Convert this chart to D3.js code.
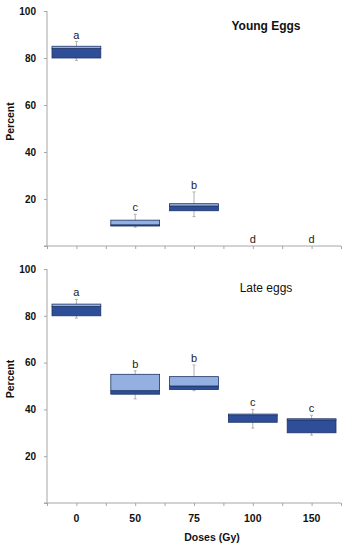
<!DOCTYPE html>
<html lang="en">
<head>
    <meta charset="utf-8">
    <title>Egg hatch by dose</title>
    <script type="text/javascript" src="https://cdn.jsdelivr.net/npm/d3@7/dist/d3.min.js"></script>
    <style>
        body { margin: 0; background: #fff; }
        svg { display: block; font-family: "Liberation Sans", Arial, sans-serif; }
        .axis path, .axis line { stroke: #a6a6a6; }
        .axis text { font-weight: bold; font-size: 10px; fill: #111; }
    </style>
</head>
<body>
    <svg width="350" height="550"></svg>

    <script type="text/javascript">
        // doses on the x axis
        var doses = ["0", "50", "75", "100", "150"];
        var yTicks = [0, 20, 40, 60, 80, 100];

        // box stats: [min, q1, median, q3, max]
        var youngStats = [
            [79, 80, 84, 85, 87],
            [8, 8.5, 9, 11, 13.5],
            [12.5, 15, 17, 18, 23],
            [0, 0, 0, 0, 0],
            [0, 0, 0, 0, 0]
        ];
        var youngLetters = ["a", "c", "b", "d", "d"];

        var lateStats = [
            [79, 80, 84, 85, 87],
            [44.5, 46.5, 48, 55, 56.5],
            [48, 48.5, 50, 54, 59],
            [32, 34.5, 37.5, 38, 40],
            [29, 30, 35.5, 36, 37.5]
        ];
        var lateLetters = ["a", "b", "b", "c", "c"];

        var darkBlue = "#2e4f98";
        var lightBlue = "#93b0e0";
        var edge = "#1d3366";

        var svg = d3.select("svg");
        var x = d3.scaleBand().domain(doses).range([47, 341]).padding(0);
        var bw = x.bandwidth();
        var boxW = bw * 0.83;
        // half-band positions for the x ticks
        var xt = d3.scaleLinear().domain([0, doses.length]).range([47, 341]);

        function drawPanel(stats, letters, title, titleBold, top, bottom, showLabels) {
            var y = d3.scaleLinear().domain([0, 100]).range([bottom, top]);
            var g = svg.append("g");

            g.append("g")
                .attr("class", "axis")
                .attr("transform", "translate(47,0)")
                .call(d3.axisLeft(y).tickValues(yTicks).tickSize(3).tickPadding(8)
                    .tickFormat(function (d) { return d === 0 ? "" : d; }))
                .call(function (a) { a.select(".domain").attr("d", "M0," + y(100) + "V" + y(0)); });

            g.append("g")
                .attr("class", "axis")
                .attr("transform", "translate(0," + bottom + ")")
                .call(d3.axisBottom(xt).tickValues(d3.range(0, doses.length + 0.01, 0.5))
                    .tickSize(3).tickFormat(""))
                .call(function (a) { a.select(".domain").attr("d", "M44,0H341"); });

            g.append("text")
                .attr("transform", "translate(14," + ((top + bottom) / 2 - 7) + ") rotate(-90)")
                .attr("text-anchor", "middle")
                .attr("font-weight", "bold")
                .attr("font-size", "10.5px")
                .attr("fill", "#111")
                .text("Percent");

            g.append("text")
                .attr("x", 266)
                .attr("y", top + (titleBold ? 19 : 23))
                .attr("text-anchor", "middle")
                .attr("font-weight", titleBold ? "bold" : "normal")
                .attr("font-size", "12px")
                .attr("fill", "#111")
                .text(title);

            var box = g.selectAll("g.box")
                .data(stats)
                .enter()
                .append("g")
                .attr("class", "box")
                .attr("transform", function (d, i) { return "translate(" + (x(doses[i]) + bw / 2) + ",0)"; });

            // whiskers
            box.filter(function (d) { return d[4] > d[0]; })
                .append("line")
                .attr("y1", function (d) { return y(d[0]); })
                .attr("y2", function (d) { return y(d[4]); })
                .attr("stroke", "#b0b0b0")
                .attr("stroke-width", 1);
            [0, 4].forEach(function (k) {
                box.filter(function (d) { return d[4] > d[0]; })
                    .append("line")
                    .attr("x1", -1.5).attr("x2", 1.5)
                    .attr("y1", function (d) { return y(d[k]); })
                    .attr("y2", function (d) { return y(d[k]); })
                    .attr("stroke", "#b0b0b0");
            });

            // lower part q1 to median
            box.filter(function (d) { return d[2] > d[1]; })
                .append("rect")
                .attr("x", -boxW / 2)
                .attr("width", boxW)
                .attr("y", function (d) { return y(d[2]); })
                .attr("height", function (d) { return y(d[1]) - y(d[2]); })
                .attr("fill", darkBlue)
                .attr("stroke", edge)
                .attr("stroke-width", 0.8);

            // upper part median to q3
            box.filter(function (d) { return d[3] > d[2]; })
                .append("rect")
                .attr("x", -boxW / 2)
                .attr("width", boxW)
                .attr("y", function (d) { return y(d[3]); })
                .attr("height", function (d) { return y(d[2]) - y(d[3]); })
                .attr("fill", lightBlue)
                .attr("stroke", edge)
                .attr("stroke-width", 0.8);

            box.append("text")
                .attr("y", function (d) { return y(d[4]) - 3; })
                .attr("text-anchor", "middle")
                .attr("font-size", "11px")
                .attr("fill", "#222")
                .text(function (d, i) { return letters[i]; });

            if (showLabels) {
                g.selectAll("text.xlab")
                    .data(doses)
                    .enter()
                    .append("text")
                    .attr("class", "xlab")
                    .attr("x", function (d) { return x(d) + bw / 2; })
                    .attr("y", bottom + 19)
                    .attr("text-anchor", "middle")
                    .attr("font-weight", "bold")
                    .attr("font-size", "10.5px")
                    .attr("fill", "#111")
                    .text(function (d) { return d; });

                g.append("text")
                    .attr("x", 212)
                    .attr("y", bottom + 38)
                    .attr("text-anchor", "middle")
                    .attr("font-weight", "bold")
                    .attr("font-size", "10.5px")
                    .attr("fill", "#111")
                    .text("Doses (Gy)");
            }
        }

        drawPanel(youngStats, youngLetters, "Young Eggs", true, 11, 246, false);
        drawPanel(lateStats, lateLetters, "Late eggs", false, 269, 503, true);
    </script>
</body>
</html>
